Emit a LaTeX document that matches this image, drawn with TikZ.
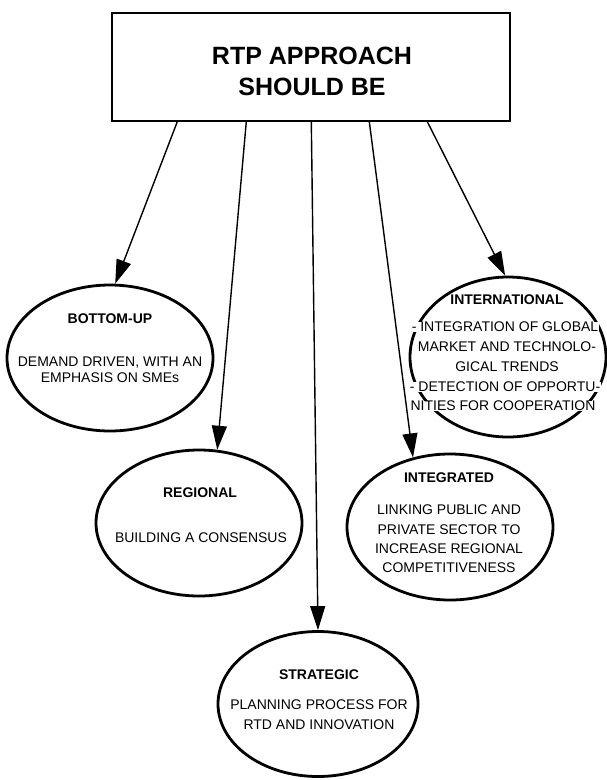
\documentclass[tikz,border=0pt]{standalone}
\usepackage{fontspec}
\setmainfont{Liberation Sans}
\usetikzlibrary{shapes.geometric,arrows.meta}

\begin{document}
\begin{tikzpicture}[x=1pt,y=-1pt,
  hub/.style={draw, line width=1.4pt, rectangle, inner sep=0pt,
    minimum width=398pt, minimum height=108pt},
  title/.style={font=\bfseries\fontsize{25}{31}\selectfont, align=center, inner sep=0pt},
  oval/.style={ellipse, draw, line width=2.8pt, inner sep=0pt,
    minimum width=206pt, minimum height=146pt},
  head/.style={font=\bfseries\fontsize{14}{16}\selectfont, fill=white, inner sep=0.5pt},
  body/.style={font=\fontsize{14}{#1}\selectfont, align=center, fill=white, inner sep=0.5pt},
  arr/.style={line width=1.4pt, -{Triangle[length=24pt,width=15pt]}}]

\useasboundingbox (0,0) rectangle (606,780);

% central box
\node[hub] (box) at (311,67) {};
\node[title] (ttl) at (312,71) {RTP APPROACH\\SHOULD BE};

% the five qualities
\node[oval] (bu) at (110,358) {};
\node[head] (buh) at (110,319) {BOTTOM-UP};
\node[body=16] (bub) at (110,370) {DEMAND DRIVEN, WITH AN\\EMPHASIS ON SMEs};

\node[oval] (rg) at (199,523) {};
\node[head] (rgh) at (200,493) {REGIONAL};
\node[body=17] (rgb) at (201,538) {BUILDING A CONSENSUS};

\node[oval, minimum width=200pt, minimum height=145pt] (st) at (318,704) {};
\node[head] (sth) at (319,675) {STRATEGIC};
\node[body=20] (stb) at (319,715) {PLANNING PROCESS FOR\\RTD AND INNOVATION};

\node[oval] (ig) at (450,527) {};
\node[head] (igh) at (449,478) {INTEGRATED};
\node[body=19.3] (igb) at (449,539) {LINKING PUBLIC AND\\PRIVATE SECTOR TO\\INCREASE REGIONAL\\COMPETITIVENESS};

% the text of this one runs over its outline, line by line
\node[oval, minimum width=196pt, minimum height=160pt] (in) at (508,357) {};
\node[head] (inh) at (507,300) {INTERNATIONAL};
\node[body=16] (in1) at (505,327) {- INTEGRATION OF GLOBAL};
\node[body=16] (in2) at (507,347) {MARKET AND TECHNOLO-};
\node[body=16] (in3) at (507,367) {GICAL TRENDS};
\node[body=16] (in4) at (505,387) {- DETECTION OF OPPORTU-};
\node[body=16] (in5) at (503,406) {NITIES FOR COOPERATION};

% arrow starts along the lower edge of the box
\coordinate (s1) at ([xshift=66pt]box.south west);
\coordinate (s2) at ([xshift=135pt]box.south west);
\coordinate (s3) at ([xshift=200pt]box.south west);
\coordinate (s4) at ([xshift=258pt]box.south west);
\coordinate (s5) at ([xshift=316pt]box.south west);

\draw[arr] (s1) -- (bu.86);
\draw[arr] (s2) -- (rg.76);
\draw[arr] (s3) -- (st.90);
\draw[arr] (s4) -- (ig.118);
\draw[arr] (s5) -- (in.92);
\end{tikzpicture}
\end{document}
